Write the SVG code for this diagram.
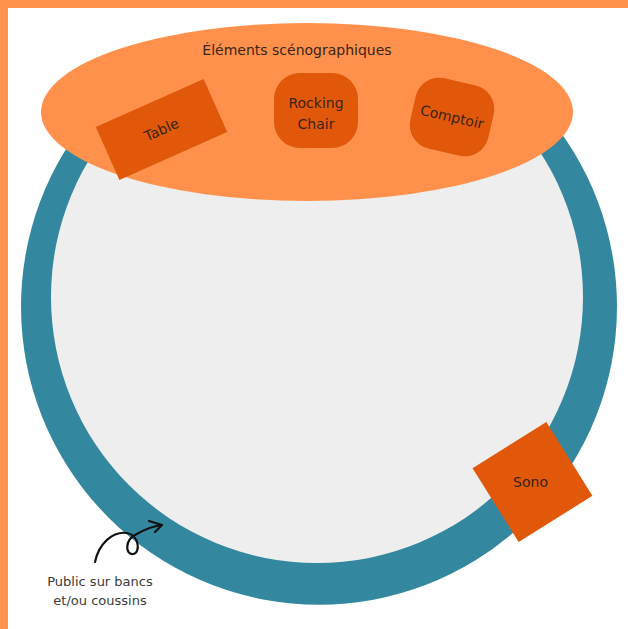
<svg xmlns="http://www.w3.org/2000/svg" width="628" height="629" viewBox="0 0 628 629">
<style>
.lbl{font-family:"DejaVu Sans","Liberation Sans",sans-serif;font-size:14px;fill:#3a2414;text-anchor:middle}
.cap{font-family:"DejaVu Sans","Liberation Sans",sans-serif;font-size:13px;fill:#3b3b3b;text-anchor:middle}
.dark{fill:#E2580A}
</style>
<rect width="628" height="629" fill="#fff"/>
<rect x="0" y="0" width="628" height="8" fill="#FF914D"/>
<rect x="0" y="0" width="8" height="629" fill="#FF914D"/>
<g id="public-ring">
<path d="M79,130 A298,298 0 1 0 559,130 Z" fill="#33889F"/>
<circle cx="317" cy="297" r="266" fill="#EEEEEE"/>
</g>
<g id="scene">
<ellipse cx="307" cy="112" rx="266" ry="89" fill="#FF914D"/>
<text class="lbl" x="297" y="55" font-size="14.5">Éléments scénographiques</text>
</g>
<g id="table" transform="translate(161.5,129.5) rotate(-24)">
<rect class="dark" x="-59" y="-29" width="118" height="58"/>
<text class="lbl" x="0" y="5">Table</text>
</g>
<g id="rocking-chair">
<rect class="dark" x="274" y="73" width="84" height="75" rx="26"/>
<text class="lbl" x="316" y="108">Rocking</text>
<text class="lbl" x="316" y="129">Chair</text>
</g>
<g id="comptoir" transform="translate(452,117) rotate(13)">
<rect class="dark" x="-40" y="-36" width="80" height="72" rx="24"/>
<text class="lbl" x="0" y="5">Comptoir</text>
</g>
<g id="sono" transform="translate(532.5,482)">
<rect class="dark" x="-43.5" y="-43.5" width="87" height="87" transform="rotate(-32)"/>
<text class="lbl" x="-2" y="5">Sono</text>
</g>
<g id="connectors" fill="none" stroke="#111" stroke-width="2.2" stroke-linecap="round" stroke-linejoin="round">
<path d="M95,562 C99,543 113,531 127,533 C139,535 141,553 133,554 C125,555 125,540 135,535 C145,529 153,526 162,525"/>
<path d="M149,521 L162,525 L155,532"/>
</g>
<g id="public-label">
<text class="cap" x="100" y="586">Public sur bancs</text>
<text class="cap" x="100" y="605">et/ou coussins</text>
</g>
</svg>
